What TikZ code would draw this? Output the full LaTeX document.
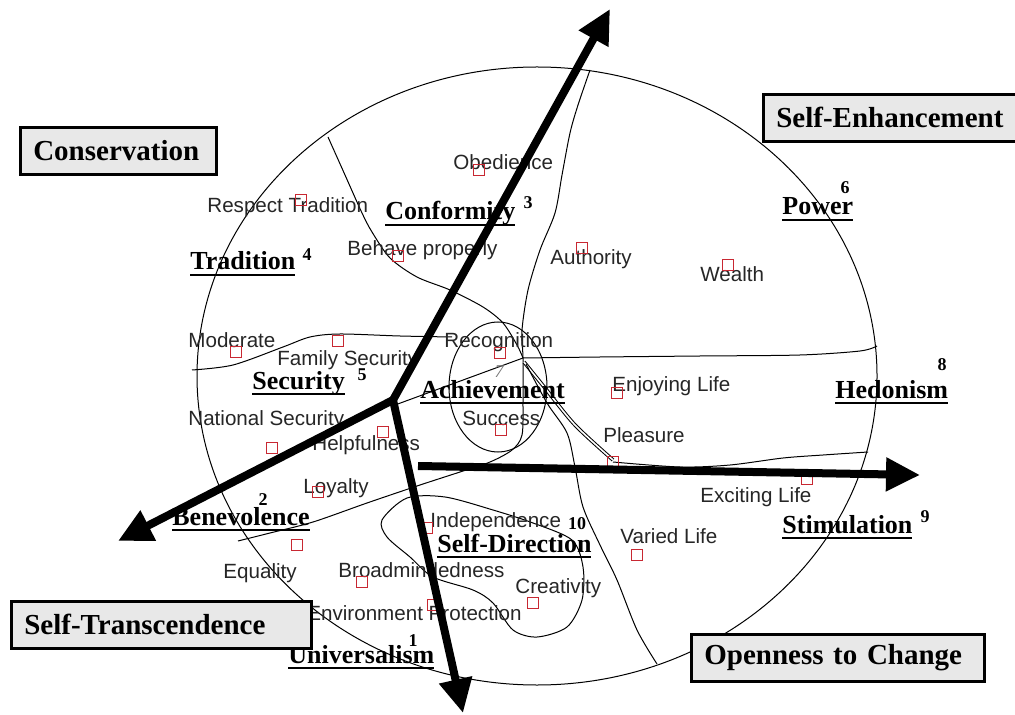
\documentclass[tikz,border=0pt]{standalone}
\usepackage{fontspec}
\setmainfont{Liberation Serif}
\newfontfamily\itemfont{Liberation Sans}
\usetikzlibrary{arrows.meta}
\definecolor{sqred}{RGB}{200,40,50}
\definecolor{boxgray}{RGB}{232,232,232}
\newcommand\undl[1]{\setbox0\hbox{#1}\rlap{\rule[-3pt]{\wd0}{0.8pt}}\box0}
\tikzset{
  bnd/.style={line width=0.5pt},
  item/.style={anchor=base west, inner sep=0pt, font=\itemfont\fontsize{10.3}{12}\selectfont, text=black!85},
  cat/.style={anchor=base west, inner sep=0pt, font=\bfseries\fontsize{13}{15}\selectfont},
  numlab/.style={inner sep=0pt, font=\bfseries\fontsize{9}{10}\selectfont},
  sq/.style={draw=sqred, line width=0.5pt, minimum size=5.5pt, inner sep=0pt},
  valbox/.style={draw, line width=1.3pt, fill=boxgray, anchor=north west, inner xsep=6.5pt, inner ysep=0pt, align=left, text width=#1, minimum height=23.5pt, font=\bfseries\fontsize{14.5}{16}\selectfont},
  arr/.style={line width=4pt, line cap=round, -{Triangle[length=17pt,width=16pt]}}
}
\begin{document}
\begin{tikzpicture}[x=0.5pt,y=-0.5pt]
\useasboundingbox (0,0) rectangle (1015,715);

\draw[bnd] (537,376) ellipse [x radius=170pt, y radius=154.5pt];
\draw[bnd] plot[smooth] coordinates {(328,137) (345,175) (362,213) (372,232) (390,258) (417,277) (450,290) (483,307) (503,323) (517,345) (523,358)};
\draw[bnd] plot[smooth] coordinates {(590,70) (578,105) (570,133) (562,175) (555,213) (540,250) (528,290) (522,330) (523,358) (523,400) (522,435) (512,450) (490,462) (460,472) (420,485) (367,503) (313,522) (270,533) (238,541)};
\draw[bnd] plot[smooth] coordinates {(192,370) (233,365) (283,347) (310,337) (340,334) (400,336) (452,337)};
\draw[bnd] plot[smooth] coordinates {(523,358) (600,357) (700,356) (800,355) (860,351) (877,346)};
\draw[bnd] (498,387) ellipse [x radius=24.5pt, y radius=32.5pt];
\draw[bnd] (523,358) -- (395,405);
\draw[bnd, double, double distance=0.8pt] plot[smooth] coordinates {(524,362) (545,388) (575,425) (613,460)};
\draw[bnd] plot[smooth] coordinates {(526,364) (547,403) (567,433) (575,467) (583,507) (600,545) (617,580) (637,630) (657,664)};
\draw[bnd] plot[smooth] coordinates {(613,462) (680,467) (730,465) (783,458) (823,455) (868,452)};
\draw[bnd] plot[smooth cycle] coordinates {(407,498) (445,497) (493,510) (533,523) (572,540) (583,567) (582,600) (567,627) (537,637) (513,630) (493,603) (473,590) (433,577) (410,557) (387,537) (382,520)};

\node[item] (i1) at (453,170) {Obedience};
\node[item] (i2) at (207,213) {Respect Tradition};
\node[item] (i3) at (347,256) {Behave properly};
\node[item] (i4) at (550,265) {Authority};
\node[item] (i5) at (700,282) {Wealth};
\node[item] (i6) at (188,348) {Moderate};
\node[item] (i7) at (277,365) {Family Security};
\node[item] (i8) at (444,348) {Recognition};
\node[item] (i9) at (612,392) {Enjoying Life};
\node[item] (i10) at (188,425) {National Security};
\node[item] (i11) at (462,425) {Success};
\node[item] (i12) at (603,442) {Pleasure};
\node[item] (i13) at (312,450) {Helpfulness};
\node[item] (i14) at (303,493) {Loyalty};
\node[item] (i15) at (700,502) {Exciting Life};
\node[item] (i16) at (430,527) {Independence};
\node[item] (i17) at (620,543) {Varied Life};
\node[item] (i18) at (223,578) {Equality};
\node[item] (i19) at (338,577) {Broadmindedness};
\node[item] (i20) at (515,593) {Creativity};
\node[item] (i21) at (307,620) {Environment Protection};

\node[sq] (s1) at (479,170) {};
\node[sq] (s2) at (301,200) {};
\node[sq] (s3) at (398,256) {};
\node[sq] (s4) at (582,248) {};
\node[sq] (s5) at (728,265) {};
\node[sq] (s6) at (236,352) {};
\node[sq] (s7) at (338,341) {};
\node[sq] (s8) at (500,353) {};
\node[sq] (s9) at (617,393) {};
\node[sq] (s10) at (272,448) {};
\node[sq] (s11) at (501,430) {};
\node[sq] (s12) at (613,462) {};
\node[sq] (s13) at (383,432) {};
\node[sq] (s14) at (318,492) {};
\node[sq] (s15) at (807,479) {};
\node[sq] (s16) at (427,528) {};
\node[sq] (s17) at (637,555) {};
\node[sq] (s18) at (297,545) {};
\node[sq] (s19) at (362,582) {};
\node[sq] (s20) at (533,603) {};
\node[sq] (s21) at (433,605) {};

\node[cat] (c1) at (288,663) {\undl{Universalism}};
\node[cat] (c2) at (172,525) {\undl{Benevolence}};
\node[cat] (c3) at (385,220) {\undl{Conformity}};
\node[cat] (c4) at (190,270) {\undl{Tradition}};
\node[cat] (c5) at (252,389) {\undl{Security}};
\node[cat] (c6) at (782,215) {\undl{Power}};
\node[cat] (c7) at (420,398) {\undl{Achievement}};
\node[cat] (c8) at (835,398) {\undl{Hedonism}};
\node[cat] (c9) at (782,533) {\undl{Stimulation}};
\node[cat] (c10) at (437,552) {\undl{Self-Direction}};

\node[numlab] (n1) at (413,641) {1};
\node[numlab] (n2) at (263,500) {2};
\node[numlab] (n3) at (528,203) {3};
\node[numlab] (n4) at (307,255) {4};
\node[numlab] (n5) at (362,375) {5};
\node[numlab] (n6) at (845,188) {6};
\node[numlab, text=black!55, font=\itshape\fontsize{9}{10}\selectfont] (n7) at (499,372) {7};
\node[numlab] (n8) at (942,365) {8};
\node[numlab] (n9) at (925,517) {9};
\node[numlab] (n10) at (577,524) {10};

\coordinate (o) at (393,400);
\coordinate (a1) at (610,9);
\coordinate (a2) at (118,541);
\coordinate (a3) at (463,713);
\coordinate (h1) at (418,466);
\coordinate (h2) at (920,475);
\draw[arr] (o) -- (a1);
\draw[arr] (o) -- (a2);
\draw[arr] (o) -- (a3);
\draw[arr, line cap=butt] (h1) -- (h2);

\node[valbox=85pt] (b1) at (19,126) {Conservation};
\node[valbox=115pt] (b2) at (762,93) {Self-Enhancement};
\node[valbox=137pt] (b3) at (10,600) {Self-Transcendence};
\node[valbox=133.5pt] (b4) at (690,633) {Openness to Change};
\end{tikzpicture}
\end{document}
